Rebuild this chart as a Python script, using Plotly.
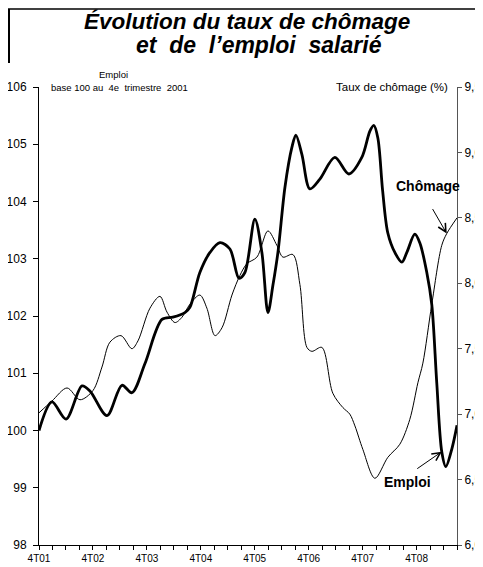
import plotly.graph_objects as go

# Time axis: quarters elapsed since 4T01 (fractional positions)
tick_pos = [0, 4, 8, 12, 16, 20, 24, 28]
tick_labels = ["4T01", "4T02", "4T03", "4T04", "4T05", "4T06", "4T07", "4T08"]

# Emploi salarié, base 100 au 4e trimestre 2001 (left axis)
emploi_t = [0, 0.96, 2.00, 3.19, 3.78, 5.04, 6.15, 6.89, 7.86, 9.12, 9.93, 10.82, 11.19,
            11.93, 12.68, 13.42, 14.16, 14.83, 15.27, 16.01, 16.53, 16.98, 17.35, 17.72,
            18.24, 18.75, 19.05, 19.50, 20.09, 20.83, 21.94, 22.98, 23.94, 24.54, 24.83,
            25.13, 25.48, 25.87, 26.39, 26.91, 27.28, 27.87, 28.24, 28.76, 29.13, 29.50,
            29.87, 30.17, 30.62, 31.0]
emploi_val = [100.00, 100.50, 100.20, 100.78, 100.69, 100.26, 100.79, 100.66, 101.17, 101.94,
              101.98, 102.06, 102.15, 102.76, 103.11, 103.28, 103.17, 102.66, 102.76, 103.69,
              103.11, 102.06, 102.54, 103.11, 104.25, 104.94, 105.16, 104.82, 104.22, 104.39,
              104.77, 104.48, 104.77, 105.23, 105.33, 105.11, 104.20, 103.45, 103.11, 102.94,
              103.11, 103.43, 103.28, 102.76, 102.20, 100.83, 99.63, 99.37, 99.68, 100.09]

# Taux de chômage (%) (right axis)
chomage_t = [0, 0.96, 2.08, 3.04, 4.00, 4.67, 5.26, 6.08, 6.89, 7.34, 8.23, 8.97, 9.49, 10.08,
             10.60, 11.19, 11.93, 12.45, 13.05, 13.57, 14.31, 14.90, 15.42, 16.16, 16.98,
             17.64, 18.09, 18.83, 19.35, 19.87, 20.24, 20.98, 21.79, 22.54, 23.05, 23.43,
             24.02, 24.91, 25.87, 26.76, 27.50, 28.10, 28.47, 29.13, 29.87, 30.24, 31.0]
chomage_val = [7.01, 7.10, 7.20, 7.11, 7.18, 7.36, 7.55, 7.60, 7.50, 7.56, 7.81, 7.90, 7.78,
               7.70, 7.74, 7.84, 7.91, 7.81, 7.60, 7.66, 7.91, 8.06, 8.15, 8.20, 8.40, 8.29,
               8.20, 8.22, 7.99, 7.51, 7.48, 7.51, 7.16, 7.05, 7.00, 6.91, 6.73, 6.51, 6.67,
               6.77, 6.96, 7.24, 7.39, 7.84, 8.29, 8.38, 8.50]

left_ticks = [98, 99, 100, 101, 102, 103, 104, 105, 106]
right_ticks = [6.0, 6.5, 7.0, 7.5, 8.0, 8.5, 9.0, 9.5]
right_labels = ["6,0", "6,5", "7,0", "7,5", "8,0", "8,5", "9,0", "9,5"]

FONT = "Liberation Sans, Arial, sans-serif"
# The page body adds an 8 px margin, so figure pixels = window pixels - 8.
FW, FH = 475, 559
TOP, LEFT, RIGHT, BOTTOM = 79, 31, 449, 537
W, H = RIGHT - LEFT, BOTTOM - TOP


def py(ypix):
    return 1 + (TOP - ypix) / H


def px(xpix):
    return (xpix - LEFT) / W


fig = go.Figure()
fig.add_trace(go.Scatter(x=emploi_t, y=emploi_val, mode="lines", name="Emploi",
                         line=dict(color="black", width=2.8, shape="spline", smoothing=0.9)))
fig.add_trace(go.Scatter(x=chomage_t, y=chomage_val, mode="lines", name="Chômage", yaxis="y2",
                         line=dict(color="black", width=1, shape="spline", smoothing=0.9)))

ie = emploi_t.index(29.87)
ic = chomage_t.index(30.24)

NB = "\u00a0"
annotations = [
    dict(text="<b><i>Évolution du taux de chômage</i></b>", xref="paper", yref="paper",
         x=px(239), y=py(13), xanchor="center", yanchor="middle", borderpad=0,
         showarrow=False, font=dict(size=22.5, family=FONT, color="black")),
    dict(text=f"<b><i>et {NB}de {NB}l’emploi {NB}salarié</i></b>", xref="paper", yref="paper",
         x=px(251), y=py(37), xanchor="center", yanchor="middle", borderpad=0,
         showarrow=False, font=dict(size=23, family=FONT, color="black")),
    dict(text="Emploi", xref="paper", yref="paper", x=px(105), y=py(67),
         xanchor="center", yanchor="middle", showarrow=False, borderpad=0,
         font=dict(size=9.5, family=FONT, color="black")),
    dict(text=f"base 100 au{NB} 4e{NB} trimestre{NB} 2001", xref="paper", yref="paper",
         x=px(111), y=py(80), xanchor="center", yanchor="middle", borderpad=0,
         showarrow=False, font=dict(size=9.5, family=FONT, color="black")),
    dict(text="Taux de chômage (%)", xref="paper", yref="paper", x=px(442),
         y=py(79), xanchor="right", yanchor="middle", showarrow=False,
         font=dict(size=11.5, family=FONT, color="black")),
    dict(text="<b>Chômage</b>", xref="x", yref="y2", x=28.84, y=8.74, xanchor="center",
         yanchor="middle", showarrow=False, font=dict(size=14, family=FONT, color="black")),
    dict(text="<b>Emploi</b>", xref="x", yref="y", x=27.35, y=99.10, xanchor="center",
         yanchor="middle", showarrow=False, font=dict(size=14, family=FONT, color="black")),
    dict(text="", xref="x", yref="y", x=emploi_t[ie], y=emploi_val[ie], ax=-26, ay=18,
         showarrow=True, arrowhead=5, arrowsize=1.6, arrowwidth=1, arrowcolor="black"),
    dict(text="", xref="x", yref="y2", x=chomage_t[ic], y=chomage_val[ic], ax=-15, ay=-26,
         showarrow=True, arrowhead=5, arrowsize=1.6, arrowwidth=1, arrowcolor="black"),
]

shapes = [
    dict(type="line", xref="paper", yref="paper", x0=px(0), x1=px(FW),
         y0=py(1), y1=py(1), line=dict(color="black", width=1.5)),
    dict(type="line", xref="paper", yref="paper", x0=px(1), x1=px(1),
         y0=py(1), y1=py(55), line=dict(color="black", width=2)),
]

fig.update_layout(
    width=FW, height=FH,
    margin=dict(l=LEFT, r=FW - RIGHT, t=TOP, b=FH - BOTTOM, autoexpand=False),
    paper_bgcolor="white", plot_bgcolor="white",
    showlegend=False,
    font=dict(family=FONT, color="black"),
    annotations=annotations,
    shapes=shapes,
    xaxis=dict(range=[0, 31], tickvals=tick_pos, ticktext=tick_labels, ticks="outside",
               ticklen=4, tickcolor="black", showline=True, linecolor="black", linewidth=1,
               showgrid=False, zeroline=False, tickfont=dict(size=10), automargin=False,
               minor=dict(dtick=1, tick0=0, ticks="outside", ticklen=4, tickcolor="black",
                          showgrid=False)),
    yaxis=dict(range=[98, 106], tickvals=left_ticks, ticks="outside", ticklen=5,
               tickcolor="black", showline=True, linecolor="black", linewidth=1,
               showgrid=False, zeroline=False, tickfont=dict(size=12), automargin=False,
               ticklabelstandoff=4),
    yaxis2=dict(range=[6, 9.5], tickvals=right_ticks, ticktext=right_labels, overlaying="y",
                side="right", ticks="outside", ticklen=4, tickcolor="#555555",
                showline=True, linecolor="#555555", linewidth=1, showgrid=False,
                zeroline=False, tickfont=dict(size=12), automargin=False),
)

fig.write_html("out.html")
